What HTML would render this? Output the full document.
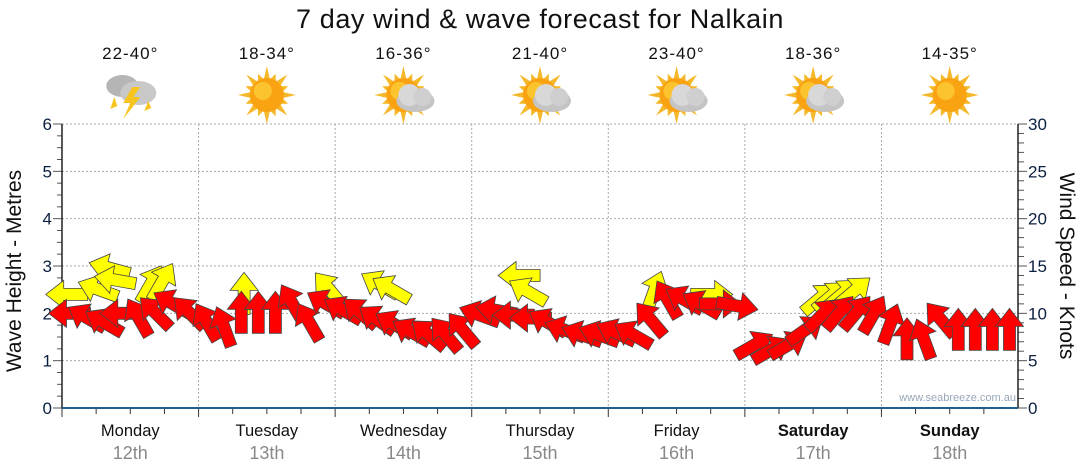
<!DOCTYPE html>
<html><head><meta charset="utf-8"><style>
body{margin:0;background:#fff;font-family:"Liberation Sans",sans-serif}
svg{display:block}
</style></head><body>
<svg id="c" width="1080" height="475" viewBox="0 0 1080 475" xmlns="http://www.w3.org/2000/svg" font-family="Liberation Sans, sans-serif">
<text x="540" y="28" text-anchor="middle" font-size="27" fill="#111" letter-spacing="0.6">7 day wind &amp; wave forecast for Nalkain</text>
<g id="grid"></g><g id="axes"></g><g id="header"></g><g id="waves"></g><g id="wind"></g>
<text transform="translate(21,271) rotate(-90)" text-anchor="middle" font-size="21" fill="#111">Wave Height - Metres</text>
<text transform="translate(1060,266) rotate(90)" text-anchor="middle" font-size="21" fill="#111">Wind Speed - Knots</text>
<text x="1016" y="401" text-anchor="end" font-size="11" fill="#9aa7b8">www.seabreeze.com.au</text>
</svg>
<script>
const days=["Monday","Tuesday","Wednesday","Thursday","Friday","Saturday","Sunday"];
const dates=["12th","13th","14th","15th","16th","17th","18th"];
const temps=["22-40°","18-34°","16-36°","21-40°","23-40°","18-36°","14-35°"];
const icons=["storm","sun","partly","partly","partly","partly","sun"];
const waveTicks=[0,1,2,3,4,5,6];
const windTicks=[0,5,10,15,20,25,30];
// wind every 3 hours: speed (knots), direction arrow points (deg clockwise from up)
const windSpeed=[10,9.5,9,10,9.5,10,11,10, 9,8.5,10,10,10,11,9,11, 10.3,10,9.3,8.8,8,7.7,7.7,8.2, 9.8,10.3,9.8,9.5,9,8.2,7.7,7.7, 7.9,7.7,9.3,11.4,11.4,10.9,11,10.8, 6.6,6.1,6.6,8.2,9.8,10,10,9.8, 8.8,7.2,7.2,9.3,8.2,8.2,8.2,8.2];
const windDir=[270,300,300,270,330,315,300,315, 330,340,0,0,0,330,330,300, 300,310,305,300,300,310,320,320, 290,280,270,270,300,290,290,290, 295,300,320,330,300,300,90,100, 60,60,60,55,45,40,40,30, 20,0,340,320,0,0,0,0];
// waves: hour from start, height (m), direction
const waveHour=[1,6.5,8.5,9.5,15.5,17.5,32,47,56,58,80.5,82,104,114,133,135,137,139];
const waveHeight=[2.4,2.5,2.95,2.7,2.6,2.65,2.4,2.5,2.6,2.5,2.8,2.45,2.45,2.4,2.3,2.35,2.4,2.45];
const waveDir=[270,290,285,280,30,30,0,320,300,300,270,300,20,90,50,50,50,50];

const NS="http://www.w3.org/2000/svg";
const X0=62,X1=1018,Y0=408,Y1=124;
const xh=h=>X0+(X1-X0)*h/168;
const ym=m=>Y0-(Y0-Y1)*m/6;
const yk=k=>Y0-(Y0-Y1)*k/30;
function el(tag,attrs,parent){const e=document.createElementNS(NS,tag);for(const k in attrs)e.setAttribute(k,attrs[k]);parent.appendChild(e);return e;}
const grid=document.getElementById('grid'),axes=document.getElementById('axes'),header=document.getElementById('header');
waveTicks.forEach(t=>{
 if(t>0){const l=el('line',{x1:X0,x2:X1,y1:ym(t),y2:ym(t),stroke:'#aaa','stroke-dasharray':'2,2'},grid);
 }
 const tx=el('text',{x:52,y:ym(t)+6,'text-anchor':'end','font-size':17,fill:'#0b1f3f'},axes);tx.textContent=t;
 
});
windTicks.forEach(t=>{
 const tx=el('text',{x:1028,y:yk(t)+6,'font-size':17,fill:'#0b1f3f'},axes);tx.textContent=t;
 
});
for(let i=0;i<=24;i++){el('line',{x1:X0-(i%4==0?9:5),x2:X0,y1:ym(i/4),y2:ym(i/4),stroke:'#555'},axes);}
for(let i=0;i<=30;i++){el('line',{x1:X1,x2:X1+(i%5==0?9:6),y1:yk(i),y2:yk(i),stroke:'#555'},axes);}
for(let d=0;d<7;d++){
 if(d>0){const g=el('line',{x1:xh(d*24),x2:xh(d*24),y1:Y1,y2:Y0,stroke:'#aaa','stroke-dasharray':'2,2'},grid);
 }
 for(let q=0;q<4;q++){el('line',{x1:xh(d*24+q*6),x2:xh(d*24+q*6),y1:Y0,y2:Y0+(q==0?9:6),stroke:'#333'},axes);}
 const cx=xh(d*24+12);
 const dn=el('text',{x:cx,y:436,'text-anchor':'middle','font-size':16.5,fill:'#111','font-weight':d>=5?'bold':'normal'},axes);dn.textContent=days[d];
 
 const dt=el('text',{x:cx,y:459,'text-anchor':'middle','font-size':18,fill:'#888'},axes);dt.textContent=dates[d];
 
 const tp=el('text',{x:cx,y:59,'text-anchor':'middle','font-size':17,fill:'#111','letter-spacing':1},header);tp.textContent=temps[d];
 
 const ic=el('g',{transform:`translate(${cx},95)`},header);
 
 const type=icons[d];
 if(type!='storm'){
  for(let r=0;r<16;r++){const a=r*22.5;el('polygon',{points:`-3,-16 3,-16 0,${r%2?-23:-29}`,fill:'#f5b82a',transform:`rotate(${a})`},ic);}
  el('circle',{cx:0,cy:0,r:17,fill:'#f9a313'},ic);el('circle',{cx:-4,cy:-4,r:9,fill:'#fcd23c',opacity:.7},ic);
 }
 if(type=='partly'){el('ellipse',{cx:12,cy:6,rx:19,ry:11,fill:'#c4c4c4'},ic);el('circle',{cx:6,cy:0,r:11,fill:'#d8d8d8'},ic);el('circle',{cx:19,cy:2,r:9,fill:'#cfcfcf'},ic);}
 if(type=='storm'){el('ellipse',{cx:-8,cy:-9,rx:16,ry:11,fill:'#b5b5b5'},ic);el('ellipse',{cx:8,cy:-2,rx:18,ry:12,fill:'#c8c8c8'},ic);
  el('polygon',{points:'2,-8 -7,8 0,8 -7,24 10,2 3,2 10,-8',fill:'#f7c51e'},ic);el('polygon',{points:'-16,2 -20,14 -13,11',fill:'#f7c51e'},ic);el('polygon',{points:'18,6 14,16 21,13',fill:'#f7c51e'},ic);}
}
el('line',{x1:X0,x2:X0,y1:Y1,y2:Y0,stroke:'#222','stroke-width':1.5},axes);
el('line',{x1:X1,x2:X1,y1:Y1,y2:Y0,stroke:'#222','stroke-width':1.5},axes);
el('line',{x1:X0,x2:X1,y1:Y0,y2:Y0,stroke:'#1f5f8f','stroke-width':2},axes);
const arrowPts="0,-22 14,-4 6,-4 6,20 -6,20 -6,-4 -14,-4";
function arrow(parent,x,y,dir,fill){const a=el('polygon',{points:arrowPts,fill:fill,stroke:'#444','stroke-width':0.8,transform:`translate(${x.toFixed(1)},${y.toFixed(1)}) rotate(${dir})`},parent);return a;}
const wv=document.getElementById('waves'),wd=document.getElementById('wind');
waveHour.forEach((h,i)=>{const a=arrow(wv,xh(h),ym(waveHeight[i]),waveDir[i],'#ffff00');
 });
windSpeed.forEach((s,i)=>{const a=arrow(wd,xh(i*3+1.5),yk(s),windDir[i],'#ff0000');
 });
</script>
</body></html>
